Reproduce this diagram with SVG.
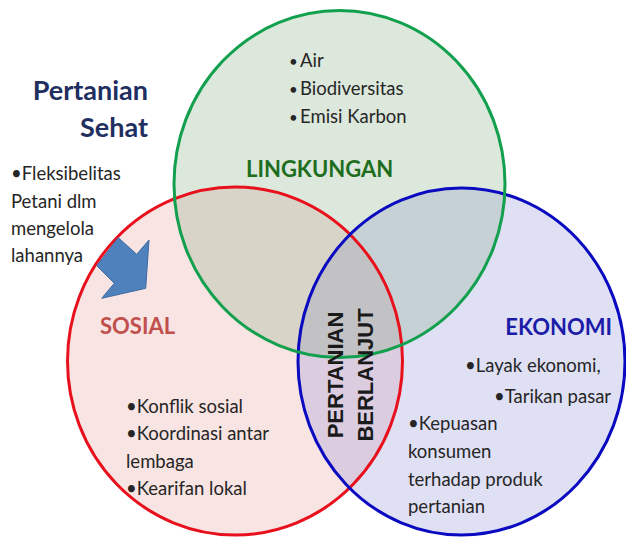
<svg xmlns="http://www.w3.org/2000/svg" width="626" height="538" viewBox="0 0 626 538">
<style>
.fillR{fill:rgb(227,147,139);fill-opacity:.25}
.fillB{fill:rgb(131,131,215);fill-opacity:.25}
.fillG{fill:rgb(119,163,119);fill-opacity:.25}
.ring{fill:none;stroke-width:3}
.body{font-family:Lato,"Liberation Sans",sans-serif;font-size:18.5px;fill:#262626}
.head{font-family:Lato,"Liberation Sans",sans-serif;font-size:22px;font-weight:bold}
.title{font-family:Lato,"Liberation Sans",sans-serif;font-size:27px;font-weight:bold;fill:#1f2f5f}
.core{font-family:"Liberation Sans",Arial,sans-serif;font-size:22px;font-weight:bold;fill:#1a1a1a}
</style>
<rect width="626" height="538" fill="#fff"/>
<g id="fills">
<ellipse class="fillR" cx="235" cy="361" rx="167.5" ry="174"/>
<ellipse class="fillB" cx="461.5" cy="361.5" rx="163.5" ry="173.5"/>
<ellipse class="fillG" cx="339.5" cy="184" rx="165.5" ry="173.5"/>
</g>
<g id="title">
<text class="title" x="148" y="100" text-anchor="end">Pertanian</text>
<text class="title" x="148" y="137" text-anchor="end">Sehat</text>
<text class="body" x="11" y="180">•Fleksibelitas</text>
<text class="body" x="11" y="208">Petani dlm</text>
<text class="body" x="11" y="235">mengelola</text>
<text class="body" x="11" y="262">lahannya</text>
</g>
<g id="sosial">
<ellipse class="ring" stroke="#e8101c" cx="235" cy="361" rx="167.5" ry="174"/>
<text class="head" x="100" y="334" fill="#c0504d">SOSIAL</text>
<text class="body" x="126" y="413">•Konflik sosial</text>
<text class="body" x="126" y="440">•Koordinasi antar</text>
<text class="body" x="126" y="468">lembaga</text>
<text class="body" x="126" y="495">•Kearifan lokal</text>
</g>
<g id="ekonomi">
<ellipse class="ring" stroke="#0a0ac0" cx="461.5" cy="361.5" rx="163.5" ry="173.5"/>
<text class="head" x="612" y="335" text-anchor="end" fill="#1c1ca8">EKONOMI</text>
<text class="body" x="465" y="372">•Layak ekonomi,</text>
<text class="body" x="494" y="403">•Tarikan pasar</text>
<text class="body" x="408" y="430">•Kepuasan</text>
<text class="body" x="408" y="458">konsumen</text>
<text class="body" x="408" y="486">terhadap produk</text>
<text class="body" x="408" y="513">pertanian</text>
</g>
<g id="lingkungan">
<ellipse class="ring" stroke="#12a04e" cx="339.5" cy="184" rx="165.5" ry="173.5"/>
<text class="head" x="246" y="177" font-size="21" fill="#1e6e1e">LINGKUNGAN</text>
<text class="body" x="289" y="67" font-size="19"><tspan font-size="15">•</tspan><tspan x="300">Air</tspan></text>
<text class="body" x="289" y="95" font-size="19"><tspan font-size="15">•</tspan><tspan x="300">Biodiversitas</tspan></text>
<text class="body" x="289" y="123" font-size="19"><tspan font-size="15">•</tspan><tspan x="300">Emisi Karbon</tspan></text>
</g>
<g id="pertanian-berlanjut">
<text class="core" transform="translate(343,375) rotate(-90)" text-anchor="middle">PERTANIAN</text>
<text class="core" transform="translate(373,375) rotate(-90)" text-anchor="middle">BERLANJUT</text>
</g>
<g id="connectors">
<polygon points="118.3,237.7 136.7,254.3 149,240 145.7,288.3 101.7,298.3 114.3,283.3 96.7,265.7" fill="#4f81bd" stroke="#3c6aa3" stroke-width="1"/>
</g>
</svg>
